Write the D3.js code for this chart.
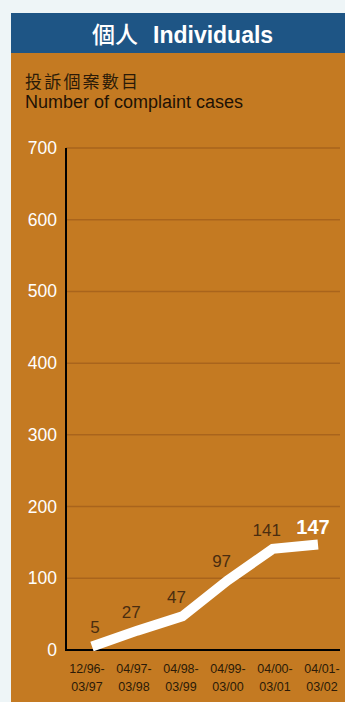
<!DOCTYPE html>
<html><head><meta charset="utf-8">
<script src="https://cdn.jsdelivr.net/npm/d3@7"></script>
<style>
html,body{margin:0;padding:0;background:#eef5f7;}
svg{display:block;}
</style></head>
<body>
<svg id="c" width="345" height="702"></svg>
<script>
const categories = [["12/96-","03/97"],["04/97-","03/98"],["04/98-","03/99"],["04/99-","03/00"],["04/00-","03/01"],["04/01-","03/02"]];
const values = [5, 27, 47, 97, 141, 147];
const yTicks = [0, 100, 200, 300, 400, 500, 600, 700];
const titleZh = "個人";
const titleEn = "Individuals";
const subtitleZh = "投訴個案數目";
const subtitleEn = "Number of complaint cases";

const svg = d3.select("#c");
const font = "'Liberation Sans', Arial, Helvetica, sans-serif";
const cjk = "'Noto Sans CJK TC', 'Noto Sans CJK SC', sans-serif";

// panel
svg.append("rect").attr("x", 11).attr("y", 13).attr("width", 334).attr("height", 689).attr("fill", "#c47a22");
svg.append("rect").attr("x", 11).attr("y", 13).attr("width", 334).attr("height", 40).attr("fill", "#1e5585");
const t = svg.append("text").attr("y", 43).attr("fill", "#ffffff").attr("font-weight", "bold");
t.append("tspan").attr("x", 92).attr("font-family", cjk).attr("font-size", 23).attr("font-weight", 500).text(titleZh);
t.append("tspan").attr("x", 153).attr("font-family", font).attr("font-size", 23).text(titleEn);

svg.append("text").attr("x", 25).attr("y", 88)
  .attr("font-family", cjk).attr("font-size", 17).attr("letter-spacing", 2.2)
  .attr("fill", "#2b1a08").text(subtitleZh);
svg.append("text").attr("x", 25).attr("y", 108)
  .attr("font-family", font).attr("font-size", 18).attr("letter-spacing", 0)
  .attr("fill", "#1e1205").text(subtitleEn);

const y = d3.scaleLinear().domain([0, 700]).range([650, 148]);
const x = d3.scalePoint().domain(d3.range(categories.length)).range([92, 318]);
const xl = d3.scalePoint().domain(d3.range(categories.length)).range([87, 322]);
const x0 = 66, x1 = 340;

// gridlines
svg.append("g").selectAll("line").data(yTicks.filter(d => d > 0)).join("line")
  .attr("x1", x0).attr("x2", x1).attr("y1", d => y(d)).attr("y2", d => y(d))
  .attr("stroke", "#a9641c").attr("stroke-width", 1.5);

// y tick labels
svg.append("g").selectAll("text").data(yTicks).join("text")
  .attr("x", 57).attr("y", d => y(d) + 6).attr("text-anchor", "end")
  .attr("font-family", font).attr("font-size", 17.5).attr("fill", "#ffffff")
  .text(d => d);

// axes
svg.append("line").attr("x1", x0).attr("x2", x0).attr("y1", y(700)).attr("y2", y(0) + 1)
  .attr("stroke", "#000").attr("stroke-width", 2);
svg.append("line").attr("x1", x0 - 1).attr("x2", x1).attr("y1", y(0)).attr("y2", y(0))
  .attr("stroke", "#000").attr("stroke-width", 2);

// x labels
const xg = svg.append("g").selectAll("text").data(categories).join("text")
  .attr("text-anchor", "middle").attr("font-family", font).attr("font-size", 12.5).attr("fill", "#2b1a08");
xg.append("tspan").attr("x", (d, i) => xl(i)).attr("y", 673).text(d => d[0]);
xg.append("tspan").attr("x", (d, i) => xl(i)).attr("y", 691).text(d => d[1]);

// line
const line = d3.line().x((d, i) => x(i)).y(d => y(d));
svg.append("path").datum(values).attr("d", line)
  .attr("fill", "none").attr("stroke", "#ffffff").attr("stroke-width", 10)
  .attr("stroke-linejoin", "miter").attr("stroke-linecap", "butt");

// value labels
const last = values.length - 1;
svg.append("g").selectAll("text").data(values).join("text")
  .attr("x", (d, i) => x(i) - (i === 0 ? -3 : i === last ? 5 : 6))
  .attr("y", (d, i) => y(d) - (i === last ? 11 : 13))
  .attr("text-anchor", "middle").attr("font-family", font)
  .attr("font-size", (d, i) => i === last ? 20 : 17)
  .attr("font-weight", (d, i) => i === last ? "bold" : "normal")
  .attr("fill", (d, i) => i === last ? "#ffffff" : "#4a2d10")
  .text(d => d);
</script>
</body></html>
